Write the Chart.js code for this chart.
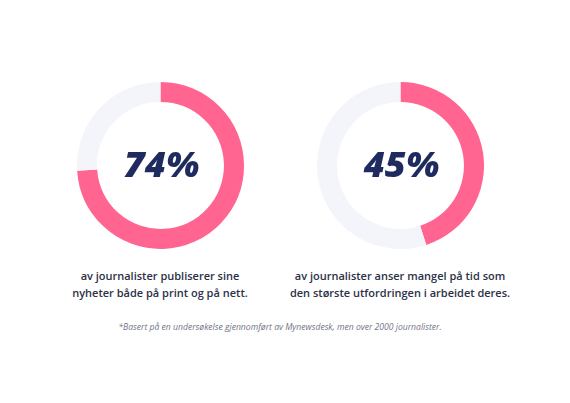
<!DOCTYPE html>
<html><head><meta charset="utf-8">
<script src="https://cdn.jsdelivr.net/npm/chart.js@4"></script>
<style>
html,body{margin:0;padding:0;background:#fff;}
#wrap{position:relative;width:570px;height:403px;overflow:hidden;font-family:"Open Sans",Lato,sans-serif;}
.c{position:absolute;}
.cap{position:absolute;width:300px;text-align:center;font-weight:600;font-size:11px;line-height:17px;color:#2c3148;white-space:nowrap;}
.note{position:absolute;left:0;width:560px;top:321px;text-align:center;font-style:italic;font-size:8.6px;color:#707585;}
</style></head><body>
<div id="wrap">
<div class="c" style="left:77px;top:82px;width:167px;height:167px"><canvas id="c0" width="167" height="167"></canvas></div>
<div class="c" style="left:317px;top:82px;width:167px;height:167px"><canvas id="c1" width="167" height="167"></canvas></div>
<div class="cap" id="cap0" style="left:10px;top:267px"></div>
<div class="cap" id="cap1" style="left:250px;top:267px"></div>
<div class="note" id="note"></div>
</div>
<script>
const categories = ["Ja", "Resten"];
const percents = [74, 45];
const centerLabels = ["74%", "45%"];
const captions = [
  ["av journalister publiserer sine", "nyheter både på print og på nett."],
  ["av journalister anser mangel på tid som", "den største utfordringen i arbeidet deres."]
];
const footnote = "*Basert på en undersøkelse gjennomført av Mynewsdesk, men over 2000 journalister.";

const centerText = {
  id: 'centerText',
  afterDraw(chart, args, opts) {
    const {ctx, chartArea} = chart;
    const x = (chartArea.left + chartArea.right) / 2;
    const y = (chartArea.top + chartArea.bottom) / 2;
    ctx.save();
    ctx.font = 'italic 800 36px "Open Sans", sans-serif';
    ctx.fillStyle = '#1f2b5e';
    ctx.textAlign = 'center';
    ctx.textBaseline = 'middle';
    ctx.fillText(opts.text, x + 1, y + 1);
    ctx.restore();
  }
};

percents.forEach((p, i) => {
  new Chart(document.getElementById('c' + i), {
    type: 'doughnut',
    data: {
      labels: categories,
      datasets: [{
        data: [p, 100 - p],
        backgroundColor: ['#ff6590', '#f4f5fa'],
        borderWidth: 0,
        hoverOffset: 0
      }]
    },
    options: {
      responsive: false,
      animation: false,
      cutout: '76%',
      layout: {padding: 0},
      plugins: {
        legend: {display: false},
        tooltip: {enabled: false},
        centerText: {text: centerLabels[i]}
      }
    },
    plugins: [centerText]
  });
  document.getElementById('cap' + i).innerHTML = captions[i].join('<br>');
});
document.getElementById('note').textContent = footnote;
</script>
</body></html>
